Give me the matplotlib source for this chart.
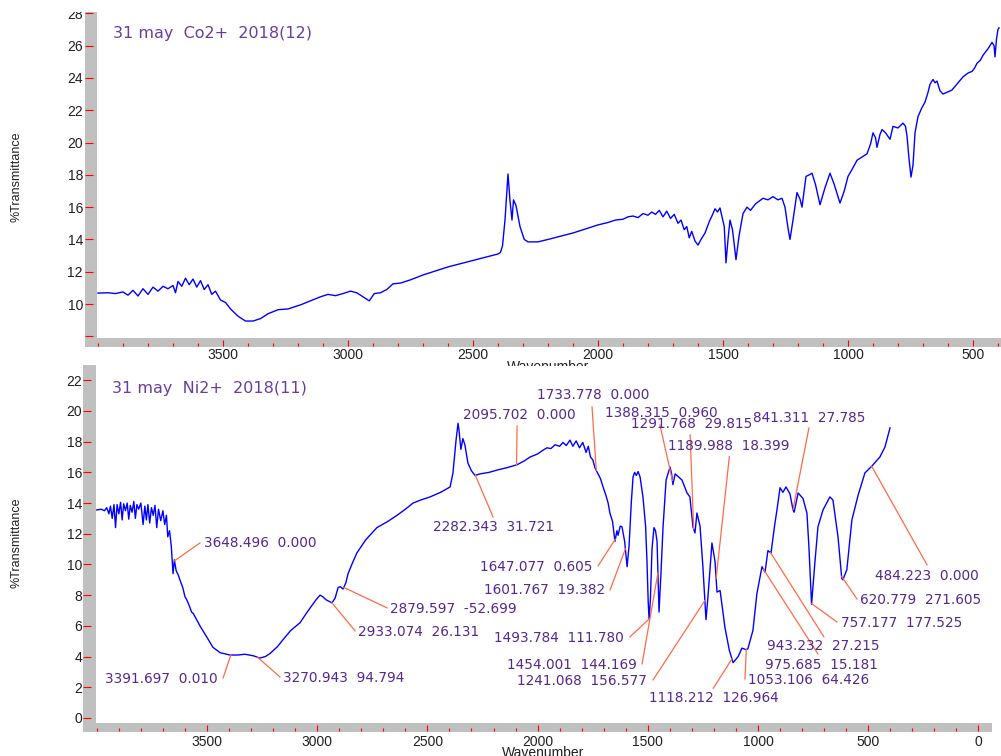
import numpy as np
import matplotlib.pyplot as plt
from matplotlib.patches import Rectangle
from matplotlib.ticker import MultipleLocator

# ---- data ----
co_wn = [4000, 3960, 3930, 3900, 3880, 3860, 3840, 3820, 3800, 3780, 3760, 3740, 3720, 3700,
         3690, 3680, 3665, 3650, 3635, 3620, 3605, 3590, 3575, 3560, 3545, 3530, 3510, 3490,
         3470, 3440, 3410, 3380, 3350, 3320, 3280, 3240, 3190, 3150, 3110, 3080, 3050, 3020,
         2990, 2965, 2935, 2915, 2895, 2870, 2845, 2820, 2790, 2750, 2700, 2650, 2600, 2550,
         2500, 2450, 2400, 2390, 2382, 2372, 2360, 2352, 2344, 2338, 2328, 2312, 2295, 2280,
         2240, 2200, 2150, 2100, 2050, 2000, 1960, 1930, 1900, 1880, 1860, 1840, 1820, 1800,
         1785, 1770, 1755, 1740, 1725, 1710, 1695, 1680, 1668, 1655, 1645, 1635, 1625, 1612,
         1600, 1588, 1572, 1555, 1540, 1532, 1522, 1512, 1504, 1495, 1488, 1480, 1472, 1462,
         1448, 1436, 1420, 1404, 1390, 1370, 1340, 1320, 1300, 1280, 1264, 1252, 1240, 1232,
         1220, 1204, 1192, 1184, 1168, 1155, 1144, 1130, 1112, 1092, 1072, 1055, 1032, 1015,
         1000, 985, 964, 944, 924, 910, 900, 890, 884, 872, 864, 850, 832, 820, 800, 780, 770,
         764, 756, 748, 740, 732, 720, 706, 692, 680, 672, 660, 652, 644, 632, 620, 605, 584,
         565, 540, 520, 504, 494, 484, 470, 460, 440, 424, 416, 412, 406, 400, 396]
co_t = [10.68, 10.70, 10.65, 10.75, 10.55, 10.85, 10.50, 10.95, 10.60, 11.05, 10.80, 11.10, 10.95, 11.15,
        10.70, 11.40, 11.10, 11.60, 11.20, 11.55, 11.05, 11.45, 10.90, 11.20, 10.60, 10.80, 10.25, 10.10,
        9.70, 9.25, 8.95, 8.95, 9.10, 9.40, 9.65, 9.70, 9.95, 10.20, 10.45, 10.60, 10.52, 10.65,
        10.80, 10.70, 10.40, 10.20, 10.65, 10.70, 10.90, 11.25, 11.30, 11.50, 11.80, 12.05, 12.30, 12.50,
        12.70, 12.90, 13.10, 13.20, 13.60, 15.20, 18.05, 16.40, 15.20, 16.45, 16.10, 14.80, 14.00, 13.85,
        13.85, 14.00, 14.20, 14.40, 14.65, 14.90, 15.05, 15.20, 15.25, 15.40, 15.45, 15.35, 15.60, 15.50,
        15.70, 15.55, 15.80, 15.40, 15.75, 15.30, 15.55, 15.00, 15.20, 14.60, 14.80, 14.10, 14.50, 13.90,
        13.65, 14.00, 14.40, 15.10, 15.60, 15.90, 15.70, 15.95, 15.40, 14.80, 12.55, 14.00, 15.20, 14.60,
        12.75, 14.20, 15.60, 16.00, 15.80, 16.20, 16.55, 16.45, 16.65, 16.45, 16.55, 16.00, 14.70, 14.00,
        15.20, 16.90, 16.50, 16.00, 17.90, 18.00, 18.10, 17.40, 16.15, 17.20, 18.10, 17.40, 16.25, 17.00,
        17.90, 18.30, 18.90, 19.10, 19.30, 19.90, 20.60, 20.30, 19.70, 20.50, 20.80, 20.60, 20.20, 21.00, 20.90, 21.20, 21.00,
        20.40, 19.00, 17.86, 18.60, 20.60, 21.60, 22.10, 22.50, 23.10, 23.60, 23.90, 23.70, 23.80, 23.20, 23.00, 23.10, 23.25,
        23.60, 24.06, 24.30, 24.40, 24.60, 24.90, 25.10, 25.40, 25.80, 26.20, 26.00, 25.30, 26.40, 27.00, 27.10]

ni_wn = [4000, 3980, 3965, 3955, 3945, 3938, 3930, 3922, 3915, 3908, 3900, 3892, 3885, 3878,
         3870, 3862, 3855, 3848, 3840, 3832, 3825, 3818, 3810, 3800, 3790, 3782, 3775, 3768,
         3760, 3752, 3744, 3736, 3728, 3720, 3710, 3700, 3692, 3684, 3678, 3670, 3662, 3654,
         3648, 3640, 3630, 3623, 3610, 3600, 3592, 3580, 3570, 3562, 3545, 3530, 3500, 3473,
         3440, 3396, 3360, 3328, 3290, 3260, 3235, 3214, 3180, 3155, 3120, 3078, 3050, 3033,
         3005, 2987, 2975, 2960, 2933, 2919, 2905, 2895, 2883, 2870, 2860, 2840, 2820, 2780,
         2729, 2680, 2638, 2600, 2565, 2530, 2488, 2440, 2397, 2384, 2370, 2361, 2357, 2348,
         2339, 2330, 2316, 2300, 2284, 2261, 2220, 2184, 2140, 2093, 2060, 2034, 2000, 1975,
         1957, 1940, 1920, 1900, 1885, 1870, 1853, 1840, 1825, 1810, 1795, 1780, 1770, 1760,
         1749, 1740, 1726, 1715, 1703, 1690, 1680, 1672, 1660, 1649, 1640, 1635, 1625, 1617,
         1605, 1594, 1585, 1575, 1567, 1560, 1552, 1544, 1535, 1522, 1510, 1504, 1498, 1494,
         1488, 1481, 1472, 1465, 1458, 1449, 1440, 1431, 1417, 1399, 1392, 1386, 1376, 1368,
         1345, 1322, 1309, 1295, 1286, 1277, 1263, 1250, 1236, 1227, 1209, 1195, 1186, 1172,
         1150, 1130, 1113, 1090, 1073, 1055, 1046, 1023, 1005, 982, 968, 955, 941, 925, 914,
         900, 887, 873, 855, 841, 836, 818, 796, 778, 769, 757, 742, 728, 705, 674, 660, 637,
         620, 615, 597, 574, 546, 515, 484, 447, 424, 401]
ni_t = [13.55, 13.60, 13.50, 13.70, 13.30, 13.80, 13.00, 13.90, 12.40, 13.90, 13.30, 14.05, 12.90, 13.95,
        13.50, 14.00, 12.95, 13.85, 13.40, 14.10, 13.00, 13.90, 13.60, 14.00, 12.60, 13.80, 12.90, 13.90,
        12.70, 13.70, 13.20, 13.85, 12.40, 13.60, 12.85, 13.50, 12.60, 13.20, 11.80, 12.20, 11.20, 9.40,
        10.30, 9.60, 9.30, 9.00, 8.50, 7.90, 7.70, 7.30, 6.90, 6.80, 6.35, 5.95, 5.25, 4.60,
        4.25, 4.10, 4.10, 4.15, 4.05, 3.90, 4.00, 4.20, 4.65, 5.10, 5.70, 6.20, 6.80, 7.15,
        7.70, 8.00, 7.90, 7.70, 7.50, 7.80, 8.50, 8.55, 8.40, 8.80, 9.40, 10.10, 10.75, 11.60,
        12.40, 12.80, 13.20, 13.60, 14.00, 14.20, 14.40, 14.70, 15.05, 15.96, 18.10, 19.20, 18.80, 17.50,
        18.20, 17.80, 16.60, 16.10, 15.80, 15.90, 16.00, 16.15, 16.30, 16.50, 16.75, 17.00, 17.20, 17.45,
        17.60, 17.55, 17.80, 17.70, 17.95, 17.75, 18.10, 17.70, 18.05, 17.60, 17.95, 17.30, 17.70, 17.00,
        16.80, 16.30, 15.90, 15.60, 15.05, 14.50, 14.00, 13.35, 12.80, 11.50, 12.20, 11.90, 12.50, 12.45,
        11.50, 9.85, 11.20, 14.00, 15.70, 16.00, 15.80, 16.05, 15.70, 14.40, 12.50, 10.30, 7.50, 6.40,
        7.80, 11.00, 12.40, 12.20, 11.50, 6.90, 9.50, 12.40, 15.50, 16.35, 15.90, 15.20, 15.90, 15.80,
        15.50, 14.66, 14.40, 12.45, 12.05, 13.35, 12.50, 9.85, 6.40, 7.90, 11.40, 10.20, 8.20, 8.30,
        5.90, 4.40, 3.60, 4.00, 4.55, 4.45, 4.50, 5.70, 8.10, 9.85, 9.50, 10.90, 10.75, 12.50, 13.55,
        15.00, 14.70, 15.05, 14.60, 13.55, 13.40, 14.66, 14.30, 13.35, 11.15, 7.40, 10.10, 12.45, 13.55, 14.40, 14.20, 11.80,
        9.10, 9.00, 9.65, 12.90, 14.50, 15.96, 16.40, 17.00, 17.65, 18.90]

# peak labels: wavenumber and the second number printed beside it
peak_wn = [3648.496, 3391.697, 3270.943, 2933.074, 2879.597, 2095.702, 2282.343, 1733.778,
           1388.315, 1291.768, 1189.988, 841.311, 1647.077, 1601.767, 1493.784, 1454.001,
           1241.068, 1118.212, 1053.106, 975.685, 943.232, 757.177, 620.779, 484.223]
peak_val = ['0.000', '0.010', '94.794', '26.131', '-52.699', '0.000', '31.721', '0.000',
            '0.960', '29.815', '18.399', '27.785', '0.605', '19.382', '111.780', '144.169',
            '156.577', '126.964', '64.426', '15.181', '27.215', '177.525', '271.605', '0.000']

# leader far end (wn, T) and label anchor (wn, T, ha)
lead_end = [(3532, 11.40), (3427, 2.61), (3169, 2.67), (2828, 5.67), (2683, 7.17), (2093, 19.02),
            (2202, 13.09), (1753, 20.26), (1445, 19.09), (1308, 18.44), (1130, 17.02), (769, 18.89),
            (1726, 9.90), (1671, 8.34), (1581, 5.28), (1526, 3.52), (1476, 2.48), (1203, 1.93),
            (1059, 2.54), (728, 4.17), (701, 5.28), (642, 6.25), (551, 7.75), (233, 9.97)]
label_at = [(3514, 11.40, 'left'), (3450, 2.54, 'right'), (3155, 2.61, 'left'), (2815, 5.60, 'left'),
            (2670, 7.10, 'left'), (2338, 19.74, 'left'), (2475, 12.44, 'left'), (2003, 21.04, 'left'),
            (1694, 19.87, 'left'), (1576, 19.15, 'left'), (1408, 17.72, 'left'), (1023, 19.54, 'left'),
            (1753, 9.84, 'right'), (1694, 8.34, 'right'), (1608, 5.21, 'right'), (1549, 3.45, 'right'),
            (1504, 2.41, 'right'), (1495, 1.30, 'left'), (1045, 2.48, 'left'), (968, 3.45, 'left'),
            (959, 4.69, 'left'), (623, 6.19, 'left'), (537, 7.69, 'left'), (469, 9.25, 'left')]

W, H = 1001, 756
plt.rcParams['font.family'] = ['Liberation Sans', 'DejaVu Sans']
fig = plt.figure(figsize=(W / 100, H / 100), dpi=100)


def box(x0, y0, x1, y1):
    return [x0 / W, 1 - y1 / H, (x1 - x0) / W, (y1 - y0) / H]


def strip(x0, y0, x1, y1, color='#c0c0c0', z=-1):
    fig.add_artist(Rectangle((x0 / W, 1 - y1 / H), (x1 - x0) / W, (y1 - y0) / H,
                             transform=fig.transFigure, facecolor=color, edgecolor='none', zorder=z))


def style(ax, xout, xpad, yout, ypad):
    for s in ax.spines.values():
        s.set_visible(False)
    ax.spines['bottom'].set_position(('outward', xout * 0.72))
    ax.spines['left'].set_position(('outward', yout * 0.72))
    ax.tick_params(axis='x', which='major', direction='in', length=6 * 0.72, width=0.8,
                   color='red', pad=xpad * 0.72, labelsize=10, labelcolor='#202020')
    ax.tick_params(axis='x', which='minor', direction='in', length=3 * 0.72, width=0.8, color='red')
    ax.tick_params(axis='y', direction='in', length=8 * 0.72, width=0.8, color='red',
                   pad=ypad * 0.72, labelsize=10, labelcolor='#202020')
    ax.xaxis.set_major_locator(MultipleLocator(500))
    ax.xaxis.set_minor_locator(MultipleLocator(100))


ax1 = fig.add_axes(box(97, 0, 1001, 338))
ax2 = fig.add_axes(box(96, 366, 992, 723))
strip(85, 12, 97, 347)
strip(85, 338, 1001, 347)
strip(83, 365, 96, 732)
strip(83, 723, 992, 732)

# top spectrum
ax1.plot(co_wn, co_t, color='#0000ff', linewidth=1.0)
ax1.set_xlim(4004, 388)
ax1.set_ylim(7.9, 28.82)
style(ax1, 8, 2, 12, 2)
ax1.set_yticks(np.arange(8, 29, 2))
ax1.set_yticklabels([''] + [str(v) for v in range(10, 29, 2)])
ax1.set_xticks([3500, 3000, 2500, 2000, 1500, 1000, 500])
ax1.text(0.0177, 0.902, '31 may  Co2+  2018(12)', transform=ax1.transAxes, color='#6a3d9f',
         fontsize=11.5, family='DejaVu Sans', va='center')

# bottom spectrum
ax2.plot(ni_wn, ni_t, color='#0000ff', linewidth=1.0)
ax2.set_xlim(4003.6, -61.7)
ax2.set_ylim(-0.33, 22.93)
style(ax2, 8, 4, 13, 1)
ax2.set_yticks(np.arange(0, 23, 2))
ax2.set_xticks([3500, 3000, 2500, 2000, 1500, 1000, 500, 0])
ax2.text(0.0179, 0.938, '31 may  Ni2+  2018(11)', transform=ax2.transAxes, color='#6a3d9f',
         fontsize=11.5, family='DejaVu Sans', va='center')

asc_wn = np.array(ni_wn[::-1], dtype=float)
asc_t = np.array(ni_t[::-1], dtype=float)
for wn, val, (ex, ey), (tx, ty, ha) in zip(peak_wn, peak_val, lead_end, label_at):
    py = np.interp(wn, asc_wn, asc_t)
    ax2.plot([wn, ex], [py, ey], color='#ff6a48', linewidth=0.9, clip_on=False)
    ax2.text(tx, ty, f'{wn:.3f}  {val}', ha=ha, va='center', color='#55288f',
             fontsize=9.8, family='DejaVu Sans', clip_on=False)

# axis titles
for yc in (177, 543):
    fig.text(17 / W, 1 - yc / H, '%Transmittance', rotation=90, ha='center', va='center',
             fontsize=9, family=['Liberation Sans Narrow', 'Liberation Sans'], color='#202020')
fig.text(548 / W, 1 - 367 / H, 'Wavenumber', ha='center', va='center', fontsize=10,
         color='#202020', zorder=-0.5)
fig.text(543 / W, 1 - 753 / H, 'Wavenumber', ha='center', va='center', fontsize=10,
         color='#202020')

# the scan is cropped at the top edge
strip(0, 0, 1001, 12, color='white', z=10)

fig.savefig('out.png', dpi=100)
